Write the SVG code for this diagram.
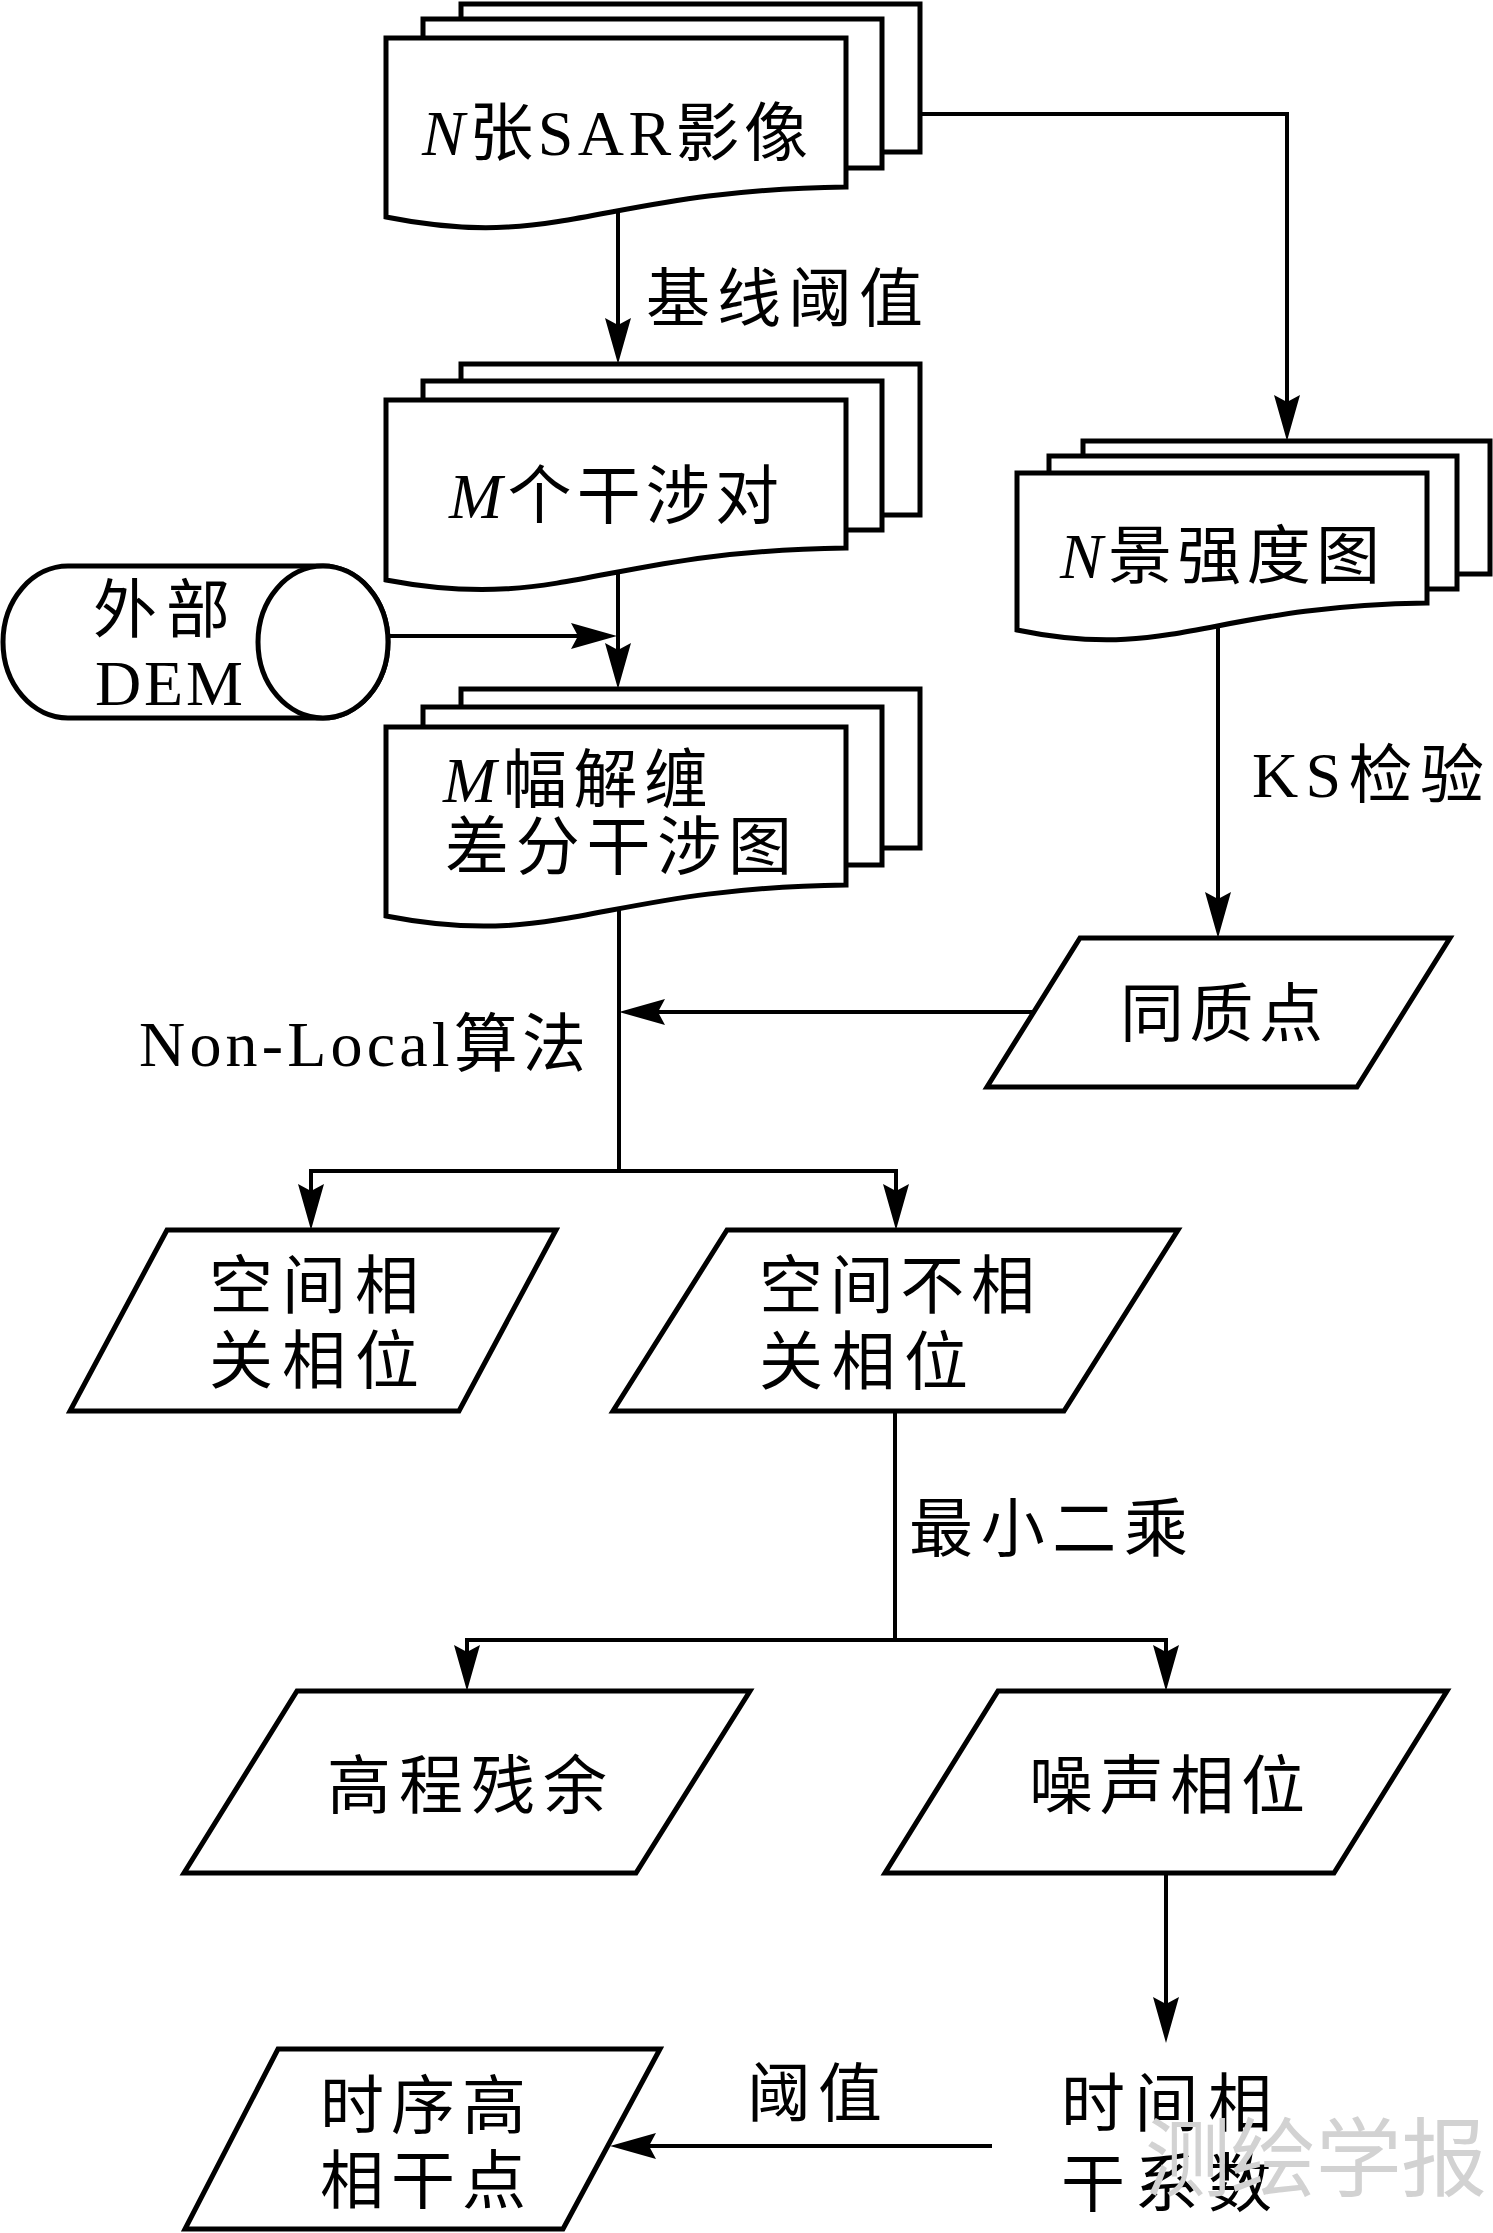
<svg xmlns="http://www.w3.org/2000/svg" width="1493" height="2233" viewBox="0 0 1493 2233">
<style>
.box{fill:#fff;stroke:#000;stroke-width:5;stroke-linejoin:miter}
.con{fill:none;stroke:#000;stroke-width:4;stroke-linejoin:miter}
.t{font-family:"Liberation Serif","Noto Sans CJK SC",serif;font-size:64px;fill:#000}
.i{font-style:italic}
.wm{font-family:"Noto Sans CJK SC",sans-serif;font-size:86px;fill:#d2d2d2}
</style>
<defs>
<marker id="ah" viewBox="0 0 46 28" refX="38" refY="14" markerWidth="46" markerHeight="28" markerUnits="userSpaceOnUse" orient="auto">
<path d="M0,1 L46,14 L0,27 L7,14 Z" fill="#000"/>
</marker>
</defs>
<rect width="1493" height="2233" fill="#fff"/>
<g id="connectors">
<path class="con" d="M618,200 V356" marker-end="url(#ah)"/>
<path class="con" d="M920,114 H1287 V433" marker-end="url(#ah)"/>
<path class="con" d="M618,560 V681" marker-end="url(#ah)"/>
<path class="con" d="M388,636 H609" marker-end="url(#ah)"/>
<path class="con" d="M619,900 V1171 H311 V1222" marker-end="url(#ah)"/>
<path class="con" d="M619,1171 H896 V1222" marker-end="url(#ah)"/>
<path class="con" d="M1033,1012 H627" marker-end="url(#ah)"/>
<path class="con" d="M1218,610 V930" marker-end="url(#ah)"/>
<path class="con" d="M895,1411 V1640 H467 V1683" marker-end="url(#ah)"/>
<path class="con" d="M895,1640 H1166 V1683" marker-end="url(#ah)"/>
<path class="con" d="M1166,1873 V2035" marker-end="url(#ah)"/>
<path class="con" d="M992,2146 H618" marker-end="url(#ah)"/>
</g>
<g id="sar">
<rect class="box" x="461" y="4" width="459" height="148"/>
<rect class="box" x="423" y="19" width="459" height="149"/>
<path class="box" d="M386,217 V38 H846 V187 C600,190 560,252 386,217 Z"/>
<text class="t" x="422" y="155" textLength="386" lengthAdjust="spacing"><tspan class="i">N</tspan>张SAR影像</text>
</g>
<g id="label-baseline">
<text class="t" x="646" y="321" textLength="277" lengthAdjust="spacing">基线阈值</text>
</g>
<g id="pairs">
<rect class="box" x="461" y="364" width="459" height="151"/>
<rect class="box" x="423" y="381" width="459" height="149"/>
<path class="box" d="M386,580 V400 H846 V548 C600,551 560,613 386,580 Z"/>
<text class="t" x="449" y="518" textLength="330" lengthAdjust="spacing"><tspan class="i">M</tspan>个干涉对</text>
</g>
<g id="dem">
<path class="box" d="M68,566 H323 A65,76 0 0 1 323,718 H68 A65,76 0 0 1 68,566 Z"/>
<ellipse class="box" cx="323" cy="642" rx="65" ry="76"/>
<text class="t" x="93" y="632" textLength="137" lengthAdjust="spacing">外部</text>
<text class="t" x="95" y="705" textLength="148" lengthAdjust="spacing">DEM</text>
</g>
<g id="unwrapped">
<rect class="box" x="461" y="689" width="459" height="159"/>
<rect class="box" x="423" y="707" width="459" height="158"/>
<path class="box" d="M386,916 V727 H846 V885 C600,888 560,950 386,916 Z"/>
<text class="t" x="443" y="802" textLength="265" lengthAdjust="spacing"><tspan class="i">M</tspan>幅解缠</text>
<text class="t" x="445" y="869" textLength="347" lengthAdjust="spacing">差分干涉图</text>
</g>
<g id="intensity">
<rect class="box" x="1083" y="441" width="407" height="133"/>
<rect class="box" x="1049" y="456" width="408" height="133"/>
<path class="box" d="M1017,630 V473 H1427 V603 C1208,606 1172,662 1017,630 Z"/>
<text class="t" x="1060" y="578" textLength="320" lengthAdjust="spacing"><tspan class="i">N</tspan>景强度图</text>
</g>
<g id="label-ks">
<text class="t" x="1252" y="797" textLength="232" lengthAdjust="spacing">KS检验</text>
</g>
<g id="homogeneous">
<path class="box" d="M1080,938 H1450 L1357,1087 H987 Z"/>
<text class="t" x="1120" y="1036" textLength="203" lengthAdjust="spacing">同质点</text>
</g>
<g id="label-nonlocal">
<text class="t" x="139" y="1066" textLength="447" lengthAdjust="spacing">Non-Local算法</text>
</g>
<g id="corr-phase">
<path class="box" d="M167,1230 H556 L459,1411 H70 Z"/>
<text class="t" x="209" y="1308" textLength="210" lengthAdjust="spacing">空间相</text>
<text class="t" x="209" y="1383" textLength="210" lengthAdjust="spacing">关相位</text>
</g>
<g id="uncorr-phase">
<path class="box" d="M727,1230 H1178 L1064,1411 H613 Z"/>
<text class="t" x="759" y="1308" textLength="276" lengthAdjust="spacing">空间不相</text>
<text class="t" x="759" y="1384" textLength="209" lengthAdjust="spacing">关相位</text>
</g>
<g id="label-lsq">
<text class="t" x="909" y="1551" textLength="279" lengthAdjust="spacing">最小二乘</text>
</g>
<g id="dem-residual">
<path class="box" d="M297,1691 H750 L636,1873 H184 Z"/>
<text class="t" x="327" y="1808" textLength="280" lengthAdjust="spacing">高程残余</text>
</g>
<g id="noise-phase">
<path class="box" d="M998,1691 H1447 L1334,1873 H885 Z"/>
<text class="t" x="1029" y="1808" textLength="276" lengthAdjust="spacing">噪声相位</text>
</g>
<g id="temporal-coh">
<text class="t" x="1061" y="2126" textLength="211" lengthAdjust="spacing">时间相</text>
<text class="t" x="1061" y="2206" textLength="211" lengthAdjust="spacing">干系数</text>
</g>
<g id="label-threshold">
<text class="t" x="747" y="2116" textLength="135" lengthAdjust="spacing">阈值</text>
</g>
<g id="coherent-points">
<path class="box" d="M278,2049 H660 L563,2229 H185 Z"/>
<text class="t" x="320" y="2128" textLength="206" lengthAdjust="spacing">时序高</text>
<text class="t" x="320" y="2203" textLength="206" lengthAdjust="spacing">相干点</text>
</g>
<text class="wm" x="1145" y="2190" textLength="342" lengthAdjust="spacing">测绘学报</text>
</svg>
